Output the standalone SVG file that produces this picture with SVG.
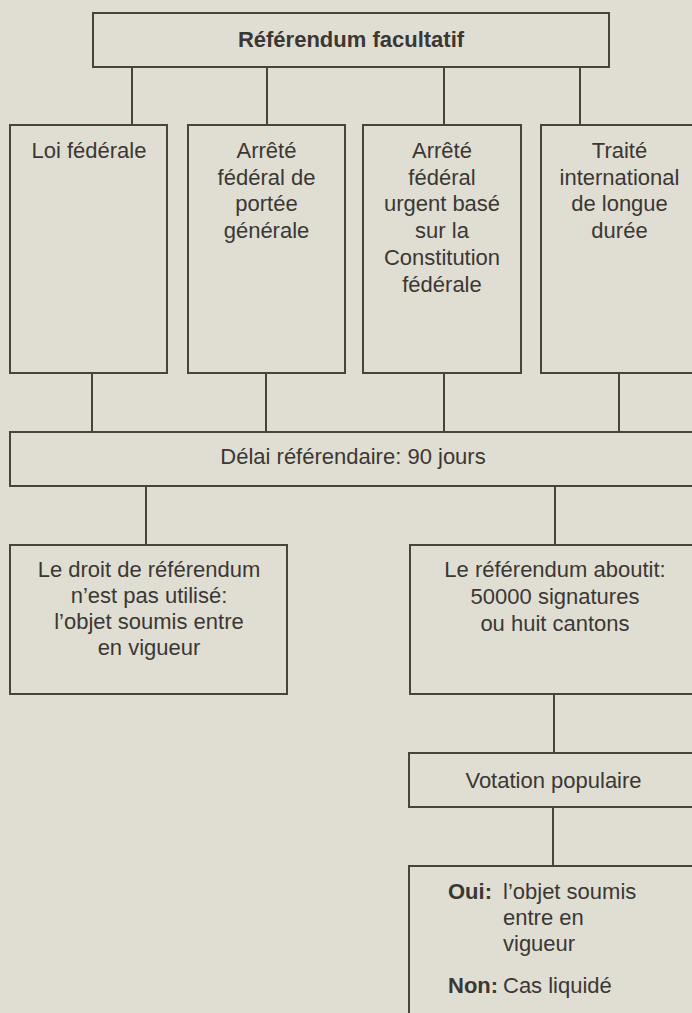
<svg xmlns="http://www.w3.org/2000/svg" width="692" height="1013" viewBox="0 0 692 1013">
<style>
.bg{fill:#e0ded3}
.box{fill:#e0ded3;stroke:#48433e;stroke-width:2}
.ln{stroke:#48433e;stroke-width:2;fill:none}
text{font-family:"Liberation Sans",Arial,sans-serif;font-size:22px;fill:#3b3733}
.c{text-anchor:middle}
.b{font-weight:bold}
</style>
<rect class="bg" x="0" y="0" width="692" height="1013"/>
<g id="connectors">
<path class="ln" d="M132 67V125M267 67V125M444 67V125M580 67V125"/>
<path class="ln" d="M92 373V432M266 373V432M444 373V432M619 373V432"/>
<path class="ln" d="M146 486V545M555 486V545"/>
<path class="ln" d="M554 694V753M553 807V866"/>
</g>
<g id="n-title">
<rect class="box" x="93" y="13" width="516" height="54"/>
<text class="c b" x="351" y="47" font-size="23">Référendum facultatif</text>
</g>
<g id="n-loi">
<rect class="box" x="10" y="125" width="157" height="248"/>
<text class="c" x="89" y="158">Loi fédérale</text>
</g>
<g id="n-arrete">
<rect class="box" x="188" y="125" width="157" height="248"/>
<text class="c" x="266.5" y="158">Arrêté</text>
<text class="c" x="266.5" y="184.7">fédéral de</text>
<text class="c" x="266.5" y="211.4">portée</text>
<text class="c" x="266.5" y="238.1">générale</text>
</g>
<g id="n-urgent">
<rect class="box" x="363" y="125" width="158" height="248"/>
<text class="c" x="442" y="158">Arrêté</text>
<text class="c" x="442" y="184.7">fédéral</text>
<text class="c" x="442" y="211.4">urgent basé</text>
<text class="c" x="442" y="238.1">sur la</text>
<text class="c" x="442" y="264.8">Constitution</text>
<text class="c" x="442" y="291.5">fédérale</text>
</g>
<g id="n-traite">
<rect class="box" x="541" y="125" width="157" height="248"/>
<text class="c" x="619.5" y="158">Traité</text>
<text class="c" x="619.5" y="184.7">international</text>
<text class="c" x="619.5" y="211.4">de longue</text>
<text class="c" x="619.5" y="238.1">durée</text>
</g>
<g id="n-delai">
<rect class="box" x="10" y="432" width="688" height="54"/>
<text class="c" x="353" y="464">Délai référendaire: 90 jours</text>
</g>
<g id="n-non-utilise">
<rect class="box" x="10" y="545" width="277" height="149"/>
<text class="c" x="149" y="577">Le droit de référendum</text>
<text class="c" x="149" y="603">n’est pas utilisé:</text>
<text class="c" x="149" y="629">l’objet soumis entre</text>
<text class="c" x="149" y="655">en vigueur</text>
</g>
<g id="n-aboutit">
<rect class="box" x="410" y="545" width="290" height="149"/>
<text class="c" x="555" y="577">Le référendum aboutit:</text>
<text class="c" x="555" y="604">50000 signatures</text>
<text class="c" x="555" y="631">ou huit cantons</text>
</g>
<g id="n-votation">
<rect class="box" x="409" y="753" width="290" height="54"/>
<text class="c" x="553.5" y="788">Votation populaire</text>
</g>
<g id="n-resultat">
<rect class="box" x="409" y="866" width="290" height="160"/>
<text class="b" x="448" y="899">Oui:</text>
<text x="503" y="899">l’objet soumis</text>
<text x="503" y="925">entre en</text>
<text x="503" y="951">vigueur</text>
<text class="b" x="448" y="993">Non:</text>
<text x="503" y="993">Cas liquidé</text>
</g>
</svg>
